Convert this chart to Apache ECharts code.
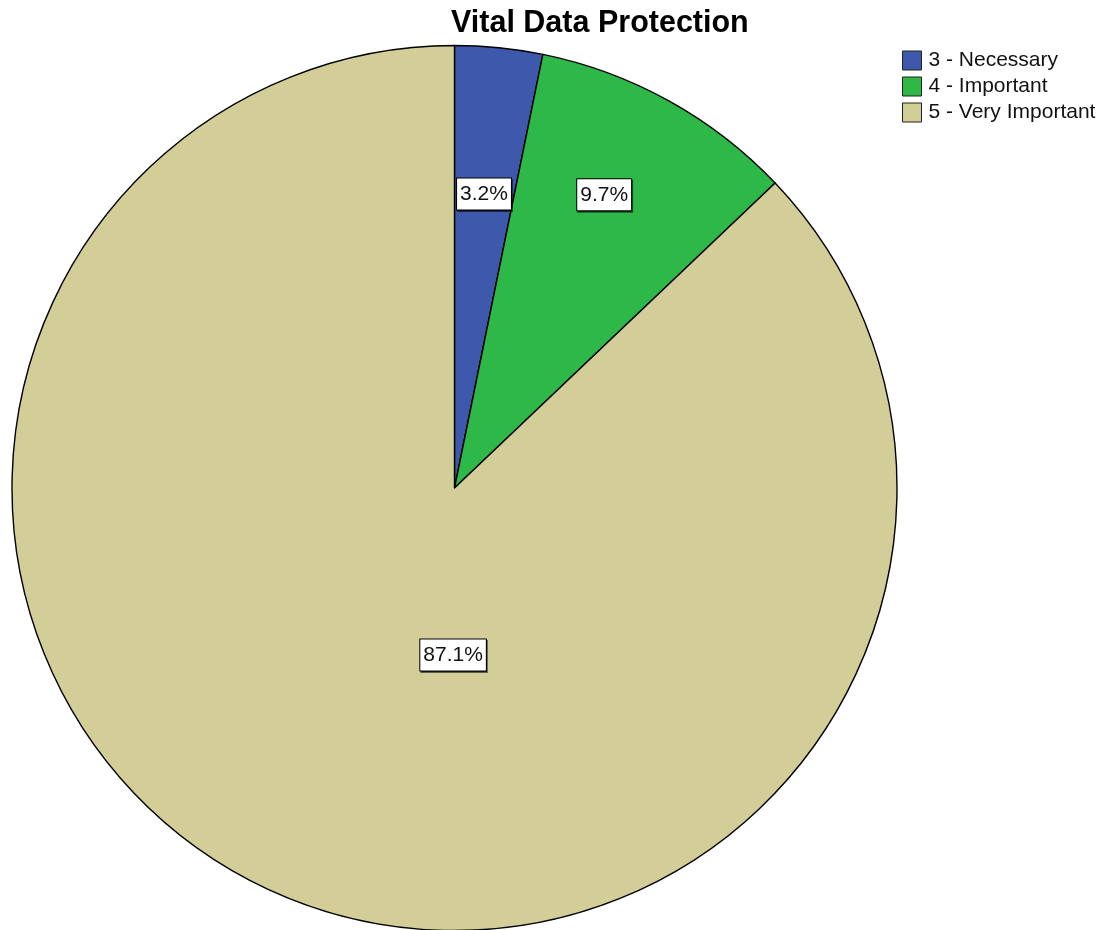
<!DOCTYPE html>
<html>
<head>
<meta charset="utf-8">
<title>Vital Data Protection</title>
<script src="https://cdn.jsdelivr.net/npm/echarts@6/dist/echarts.min.js"></script>
<style>
  html, body { margin: 0; padding: 0; background: #fff; }
  #chart { width: 1099px; height: 930px; }
</style>
</head>
<body>
<div id="chart"></div>
<script>
// Response categories and their share of respondents (percent)
const categories = ['3 - Necessary', '4 - Important', '5 - Very Important'];
const percents = [3.2, 9.7, 87.1];
const colors = ['#3e58ac', '#2eb848', '#d3ce97'];

// Nudges that move each percentage box away from the default inside spot
const labelOffsets = [[7, -71], [41, -97], [87, -39]];

const FONT = '"Liberation Sans", Arial, sans-serif';

const chart = echarts.init(document.getElementById('chart'), null, { renderer: 'canvas' });

chart.setOption({
  backgroundColor: '#ffffff',
  animation: false,
  title: {
    text: 'Vital Data Protection',
    left: 451,
    top: 8,
    padding: 0,
    textStyle: { fontFamily: FONT, fontSize: 30.5, fontWeight: 'bold', color: '#000' }
  },
  legend: {
    orient: 'vertical',
    left: 902,
    top: 50,
    padding: 0,
    itemWidth: 19,
    itemHeight: 19,
    itemGap: 5,
    icon: 'rect',
    selectedMode: false,
    data: categories,
    itemStyle: { borderColor: '#222', borderWidth: 1 },
    textStyle: { fontFamily: FONT, fontSize: 21, color: '#111', padding: [0, 0, 0, 2] }
  },
  series: [{
    type: 'pie',
    center: [454.5, 488],
    radius: [0, 442.5],
    startAngle: 90,
    clockwise: true,
    avoidLabelOverlap: false,
    labelLine: { show: false },
    itemStyle: { borderColor: '#000', borderWidth: 1.4 },
    emphasis: { disabled: true },
    label: {
      show: true,
      position: 'inside',
      formatter: p => p.value.toFixed(1) + '%',
      fontFamily: FONT,
      fontSize: 21,
      lineHeight: 23,
      color: '#111',
      backgroundColor: '#fff',
      borderColor: '#000',
      borderWidth: 1,
      padding: [5, 3, 3, 3],
      shadowColor: 'rgba(0,0,0,0.55)',
      shadowOffsetX: 1,
      shadowOffsetY: 1.5
    },
    data: categories.map((name, i) => ({
      name,
      value: percents[i],
      itemStyle: { color: colors[i] },
      label: { offset: labelOffsets[i] }
    }))
  }]
});
</script>
</body>
</html>
